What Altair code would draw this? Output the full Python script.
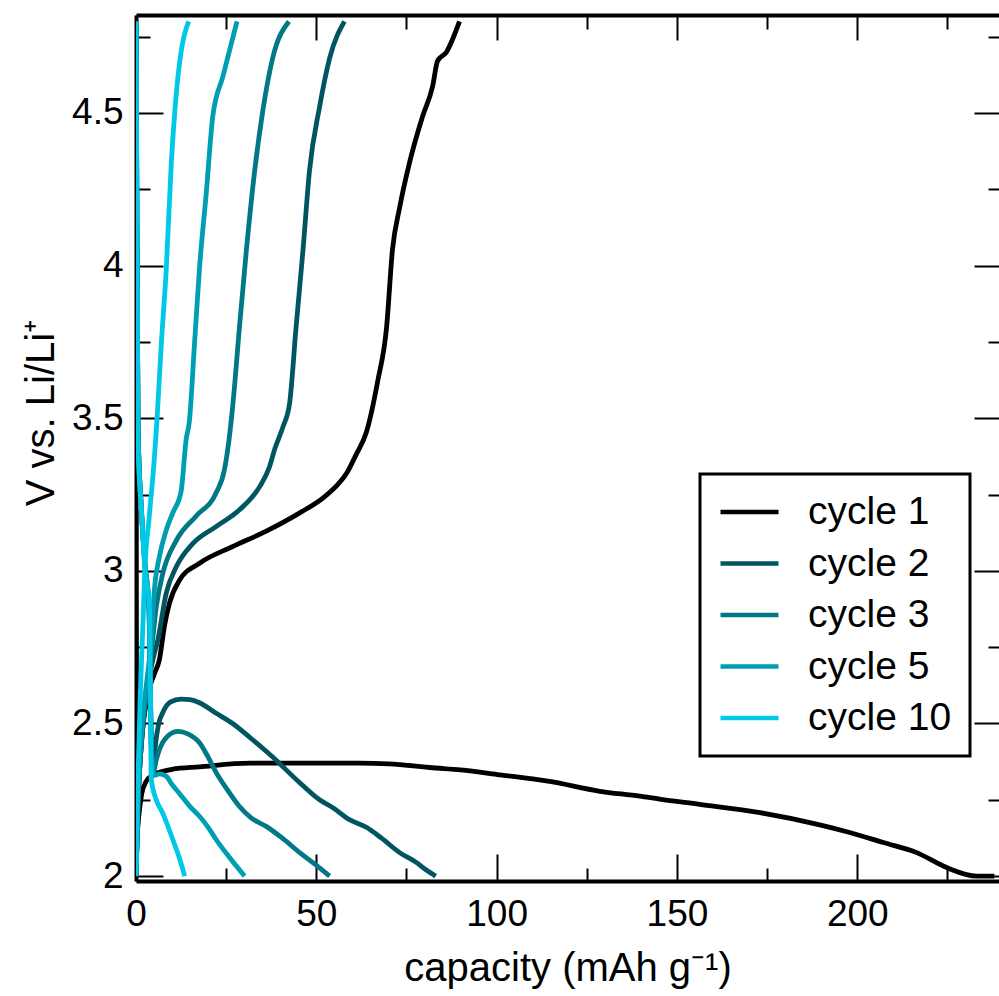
import altair as alt
import pandas as pd

# ---------------- data ----------------
cycles = ["cycle 1", "cycle 2", "cycle 3", "cycle 5", "cycle 10"]
colors = ["#000000", "#005560", "#007886", "#009eb2", "#00c8e6"]

# cycle 1
c1_dis_cap = [0, 0.1, 0.25, 0.8, 1.6, 2.8, 4.5, 6.5, 10, 17.6, 31.5, 45.4, 62, 70, 82.3, 90,
              100.8, 114.7, 128.6, 139.7, 145.2, 156.3, 173, 189.6, 197.9, 207.2, 216.5, 224.8, 233.1, 238]
c1_dis_v = [3.2, 2.6, 2.14, 2.2, 2.27, 2.31, 2.33, 2.34, 2.35, 2.358, 2.37, 2.37, 2.37, 2.368, 2.355, 2.348,
            2.332, 2.31, 2.278, 2.262, 2.252, 2.235, 2.208, 2.168, 2.143, 2.11, 2.077, 2.028, 2.0, 2.0]
c1_chg_cap = [0, 0.6, 1.6, 3.0, 5.0, 6.5, 7.9, 9.3, 12.1, 17.6, 26.9, 36.1, 45.4, 52, 56.5, 58.4, 61,
              63.9, 67, 69.5, 71.1, 73.1, 75.9, 79.5, 82.3, 83.6, 86.1, 89.7]
c1_chg_v = [2.0, 2.25, 2.45, 2.58, 2.66, 2.71, 2.82, 2.895, 2.97, 3.025, 3.08, 3.13, 3.19, 3.24, 3.29, 3.32, 3.38,
            3.455, 3.62, 3.80, 4.05, 4.19, 4.34, 4.49, 4.59, 4.67, 4.70, 4.80]

# cycle 2
c2_dis_cap = [0, 0.2, 0.4, 0.6, 1.5, 2.5, 3.6, 4.0, 4.3, 4.6, 5.3, 6.3, 7.4, 9.5, 12.5, 15, 17.6, 22,
              26.8, 32, 37.9, 45.4, 50.9, 54.5, 59.2, 63.9, 68, 73.1, 77.7, 80.5, 83.1]
c2_dis_v = [4.8, 4.3, 3.8, 3.45, 3.2, 3.02, 2.88, 2.6, 2.4, 2.33, 2.42, 2.50, 2.535, 2.57, 2.58, 2.578,
            2.568, 2.535, 2.50, 2.45, 2.39, 2.306, 2.25, 2.225, 2.185, 2.16, 2.125, 2.077, 2.045, 2.02, 2.0]
c2_chg_cap = [0, 0.6, 1.6, 3.0, 4.7, 6.0, 8.4, 11.2, 15.8, 22.2, 28.7, 34.3, 37, 38.5, 40.7, 42.6, 44.4,
              46.3, 48.1, 50.9, 53.7, 57.8]
c2_chg_v = [2.0, 2.25, 2.45, 2.6, 2.71, 2.77, 2.928, 3.014, 3.09, 3.145, 3.20, 3.276, 3.34, 3.40, 3.47, 3.55,
            3.80, 4.05, 4.31, 4.52, 4.68, 4.80]

# cycle 3
c3_dis_cap = [0, 0.2, 0.4, 0.6, 1.5, 2.5, 3.6, 4.0, 4.3, 4.8, 5.6, 7.9, 11.6, 14.5, 17.6, 20, 22.2,
              25.5, 28.7, 32, 36.1, 40.5, 45.4, 49.5, 53.7]
c3_dis_v = [4.8, 4.3, 3.8, 3.45, 3.2, 3.02, 2.88, 2.6, 2.4, 2.34, 2.38, 2.447, 2.474, 2.465, 2.437, 2.39,
            2.34, 2.28, 2.228, 2.19, 2.163, 2.125, 2.077, 2.04, 2.0]
c3_chg_cap = [0, 0.6, 1.6, 3.0, 4.2, 5.6, 7.4, 11.2, 16.7, 22.2, 24.5, 25.8, 26.9, 28.7, 30.6, 32.9,
              35.2, 37.9, 42.4]
c3_chg_v = [2.0, 2.25, 2.45, 2.62, 2.73, 2.88, 2.99, 3.10, 3.18, 3.255, 3.33, 3.43, 3.55, 3.80, 4.05, 4.31,
            4.51, 4.68, 4.80]

# cycle 5
c5_dis_cap = [0, 0.2, 0.4, 0.6, 1.5, 2.5, 3.6, 4.0, 4.3, 5.1, 6.5, 8.4, 10, 12.1, 14.8, 17.6, 20, 22.2,
              26, 30.1]
c5_dis_v = [4.8, 4.3, 3.8, 3.45, 3.2, 3.02, 2.88, 2.6, 2.4, 2.33, 2.335, 2.327, 2.30, 2.27, 2.23, 2.196,
            2.16, 2.12, 2.06, 2.0]
c5_chg_cap = [0, 0.6, 1.6, 3.0, 4.2, 5.1, 6.5, 8.4, 10.2, 12.5, 13.9, 14.8, 16.2, 17.6, 19.5, 21.3,
              24.1, 28.0]
c5_chg_v = [2.0, 2.27, 2.48, 2.64, 2.77, 2.938, 3.047, 3.134, 3.19, 3.26, 3.43, 3.49, 3.74, 3.99, 4.24,
            4.49, 4.62, 4.80]

# cycle 10
c10_dis_cap = [0, 0.2, 0.4, 0.5, 1.5, 2.5, 3.7, 4.0, 4.2, 5.6, 7.4, 8.8, 10.2, 12, 13.5]
c10_dis_v = [4.8, 4.3, 3.8, 3.43, 3.2, 3.0, 2.9, 2.6, 2.32, 2.25, 2.207, 2.165, 2.12, 2.06, 2.0]
c10_chg_cap = [0, 0.5, 1.2, 2.0, 2.4, 3.7, 5.1, 5.8, 7.0, 8.4, 9.8, 11.0, 12.5, 14.6]
c10_chg_v = [2.0, 2.3, 2.6, 2.85, 2.99, 3.18, 3.37, 3.49, 3.74, 3.99, 4.34, 4.54, 4.70, 4.80]

segments = [
    ("cycle 1", "dis", c1_dis_cap, c1_dis_v), ("cycle 1", "chg", c1_chg_cap, c1_chg_v),
    ("cycle 2", "dis", c2_dis_cap, c2_dis_v), ("cycle 2", "chg", c2_chg_cap, c2_chg_v),
    ("cycle 3", "dis", c3_dis_cap, c3_dis_v), ("cycle 3", "chg", c3_chg_cap, c3_chg_v),
    ("cycle 5", "dis", c5_dis_cap, c5_dis_v), ("cycle 5", "chg", c5_chg_cap, c5_chg_v),
    ("cycle 10", "dis", c10_dis_cap, c10_dis_v), ("cycle 10", "chg", c10_chg_cap, c10_chg_v),
]

x_major = [0, 50, 100, 150, 200]
x_minor = [25, 75, 125, 175, 225]
y_major = [2, 2.5, 3, 3.5, 4, 4.5]
y_minor = [2.25, 2.75, 3.25, 3.75, 4.25, 4.75]

rows = []
for cyc, kind, caps, vs in segments:
    for i, (c, v) in enumerate(zip(caps, vs)):
        rows.append({"cycle": cyc, "seg": cyc + " " + kind, "i": i, "cap": c, "v": v})
df = pd.DataFrame(rows)

# ---------------- chart ----------------
FONT = "Liberation Sans"
xs = alt.Scale(domain=[0, 239.3], nice=False, zero=False)
ys = alt.Scale(domain=[1.984, 4.821], nice=False, zero=False)


def tick_axis(orient, values, size, domain=False):
    return alt.Axis(orient=orient, values=values, labels=False, ticks=True,
                    tickSize=alt.ExprRef(expr=str(-size)), tickColor="black", tickWidth=2,
                    domain=domain, domainColor="black", domainWidth=4, grid=False, title=None)


x_main = alt.Axis(orient="bottom", values=x_major, format="~r", ticks=False, domain=True,
                  domainColor="black", domainWidth=4, grid=False, labelFont=FONT, labelFontSize=37,
                  labelColor="black", labelPadding=15, labelFlush=False, labelOverlap=False,
                  title="capacity (mAh g\u207b\u00b9)", titleFont=FONT, titleFontSize=40,
                  titleFontWeight="normal", titleColor="black", titleY=99, titleBaseline="alphabetic")
y_main = alt.Axis(orient="left", values=y_major, format="~r", ticks=False, domain=True,
                  domainColor="black", domainWidth=4, grid=False, labelFont=FONT, labelFontSize=37,
                  labelColor="black", labelPadding=13, labelFlush=False, labelOverlap=False,
                  title="V vs. Li/Li\u207a", titleFont=FONT, titleFontSize=40, titleFontWeight="normal",
                  titleColor="black", titleX=-83, titleY=397, titleAngle=270, titleBaseline="alphabetic")

legend = alt.Legend(orient="none", legendX=564, legendY=459, title=None, symbolType="stroke",
                    symbolSize=3364, symbolStrokeWidth=4.5, labelFont=FONT, labelFontSize=39,
                    labelColor="black", labelOffset=27, padding=18, rowPadding=11.5, clipHeight=40,
                    strokeColor="black", fillColor="white", labelLimit=0)

base = alt.Chart(df)

lines = base.mark_line(strokeWidth=4.8, clip=True, strokeJoin="round", interpolate="monotone").encode(
    x=alt.X("cap:Q", scale=xs, axis=x_main),
    y=alt.Y("v:Q", scale=ys, axis=y_main),
    color=alt.Color("cycle:N", scale=alt.Scale(domain=cycles, range=colors), legend=legend),
    detail="seg:N",
    order="i:Q",
)


def ghost(xaxis, yaxis):
    return base.mark_line(opacity=0).encode(
        x=alt.X("cap:Q", scale=xs, axis=xaxis),
        y=alt.Y("v:Q", scale=ys, axis=yaxis),
        detail="seg:N",
    )


l2 = ghost(tick_axis("bottom", x_major, 27), tick_axis("left", y_major, 27))
l3 = ghost(tick_axis("bottom", x_minor, 13), tick_axis("left", y_minor, 14))
l4 = ghost(tick_axis("top", x_major, 25, domain=True), tick_axis("right", y_major, 25))
l5 = ghost(tick_axis("top", x_minor, 14), tick_axis("right", y_minor, 11))

chart = (
    alt.layer(lines, l2, l3, l4, l5)
    .resolve_axis(x="independent", y="independent")
    .properties(width=863, height=866, autosize=alt.AutoSizeParams(type="none"),
                padding={"left": 136, "top": 15, "right": 0, "bottom": 115},
                background="white")
    .configure_view(strokeWidth=0)
    .configure_legend(strokeWidth=3)
)

chart.save("out.html", embed_options={"renderer": "svg", "actions": False})
